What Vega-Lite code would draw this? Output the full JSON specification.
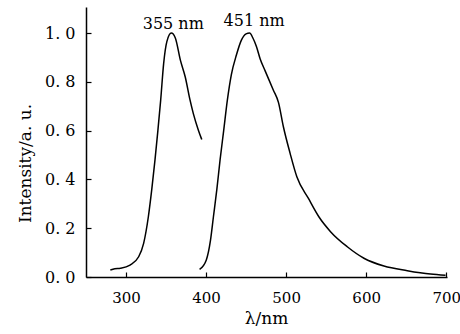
{
  "$schema": "https://vega.github.io/schema/vega-lite/v6.json",
  "width": 361,
  "height": 270,
  "autosize": {"type": "none"},
  "padding": {"left": 86, "top": 7, "right": 13, "bottom": 57},
  "background": "white",
  "config": {
    "view": {"stroke": null},
    "font": "DejaVu Serif"
  },
  "datasets": {
    "curves": [
      {"series": "ex", "wl": 280.4, "I": 0.029},
      {"series": "ex", "wl": 286, "I": 0.034},
      {"series": "ex", "wl": 293, "I": 0.036},
      {"series": "ex", "wl": 305, "I": 0.049},
      {"series": "ex", "wl": 315.8, "I": 0.083},
      {"series": "ex", "wl": 322, "I": 0.138},
      {"series": "ex", "wl": 327.9, "I": 0.247},
      {"series": "ex", "wl": 332.2, "I": 0.36},
      {"series": "ex", "wl": 336.2, "I": 0.48},
      {"series": "ex", "wl": 339.8, "I": 0.6},
      {"series": "ex", "wl": 343.3, "I": 0.725},
      {"series": "ex", "wl": 347, "I": 0.875},
      {"series": "ex", "wl": 351, "I": 0.965},
      {"series": "ex", "wl": 356.6, "I": 1.0},
      {"series": "ex", "wl": 361.6, "I": 0.98},
      {"series": "ex", "wl": 367.9, "I": 0.889},
      {"series": "ex", "wl": 374, "I": 0.82},
      {"series": "ex", "wl": 380, "I": 0.725},
      {"series": "ex", "wl": 384.1, "I": 0.67},
      {"series": "ex", "wl": 390.4, "I": 0.602},
      {"series": "ex", "wl": 394.6, "I": 0.564},
      {"series": "em", "wl": 391.9, "I": 0.031},
      {"series": "em", "wl": 400.3, "I": 0.07},
      {"series": "em", "wl": 405.5, "I": 0.15},
      {"series": "em", "wl": 409.2, "I": 0.247},
      {"series": "em", "wl": 413.5, "I": 0.36},
      {"series": "em", "wl": 417.5, "I": 0.48},
      {"series": "em", "wl": 422, "I": 0.6},
      {"series": "em", "wl": 426.6, "I": 0.725},
      {"series": "em", "wl": 431.6, "I": 0.83},
      {"series": "em", "wl": 437.9, "I": 0.91},
      {"series": "em", "wl": 444, "I": 0.97},
      {"series": "em", "wl": 450, "I": 0.997},
      {"series": "em", "wl": 454.4, "I": 1.0},
      {"series": "em", "wl": 458.5, "I": 0.98},
      {"series": "em", "wl": 462.9, "I": 0.945},
      {"series": "em", "wl": 467.5, "I": 0.895},
      {"series": "em", "wl": 473.8, "I": 0.845},
      {"series": "em", "wl": 484.1, "I": 0.766},
      {"series": "em", "wl": 490.5, "I": 0.715},
      {"series": "em", "wl": 496.6, "I": 0.616},
      {"series": "em", "wl": 505, "I": 0.507},
      {"series": "em", "wl": 513.4, "I": 0.411},
      {"series": "em", "wl": 527.9, "I": 0.322},
      {"series": "em", "wl": 540.9, "I": 0.247},
      {"series": "em", "wl": 555.5, "I": 0.186},
      {"series": "em", "wl": 576.4, "I": 0.124},
      {"series": "em", "wl": 597.2, "I": 0.077},
      {"series": "em", "wl": 622.2, "I": 0.045},
      {"series": "em", "wl": 651.4, "I": 0.026},
      {"series": "em", "wl": 680.4, "I": 0.012},
      {"series": "em", "wl": 699.2, "I": 0.007}
    ],
    "labels": [
      {"text": "355 nm", "wl": 359, "I": 1.016},
      {"text": "451 nm", "wl": 460, "I": 1.029}
    ]
  },
  "layer": [
    {
      "data": {"name": "curves"},
      "mark": {"type": "line", "color": "black", "strokeWidth": 1.5, "interpolate": "monotone"},
      "encoding": {
        "x": {
          "field": "wl", "type": "quantitative",
          "scale": {"domain": [250, 701], "nice": false, "zero": false},
          "axis": {
            "title": "λ/nm", "values": [300, 400, 500, 600, 700],
            "grid": false, "domainColor": "black", "domainWidth": 1.5,
            "tickColor": "black", "tickSize": -5, "tickWidth": 1.2,
            "labelFont": "DejaVu Serif", "labelFontSize": 15, "labelColor": "black",
            "labelPadding": 18, "labelFlush": false,
            "titleFont": "DejaVu Serif", "titleFontSize": 17, "titleFontWeight": "normal",
            "titleColor": "black", "titlePadding": 5, "titleX": 180
          }
        },
        "y": {
          "field": "I", "type": "quantitative",
          "scale": {"domain": [0, 1.107], "nice": false},
          "axis": {
            "title": "Intensity/a. u.", "values": [0, 0.2, 0.4, 0.6, 0.8, 1.0],
            "labelExpr": "replace(format(datum.value, '.1f'), '.', '. ')",
            "grid": false, "domainColor": "black", "domainWidth": 1.5,
            "tickColor": "black", "tickSize": -5, "tickWidth": 1.2,
            "labelFont": "DejaVu Serif", "labelFontSize": 16, "labelColor": "black",
            "labelPadding": 16, "labelFlush": false,
            "titleFont": "DejaVu Serif", "titleFontSize": 17, "titleFontWeight": "normal",
            "titleColor": "black", "titleY": 156, "titleX": -52
          }
        },
        "detail": {"field": "series"}
      }
    },
    {
      "data": {"name": "labels"},
      "mark": {"type": "text", "font": "DejaVu Serif", "fontSize": 16, "color": "black", "baseline": "alphabetic", "align": "center"},
      "encoding": {
        "x": {"field": "wl", "type": "quantitative"},
        "y": {"field": "I", "type": "quantitative"},
        "text": {"field": "text"}
      }
    }
  ]
}
